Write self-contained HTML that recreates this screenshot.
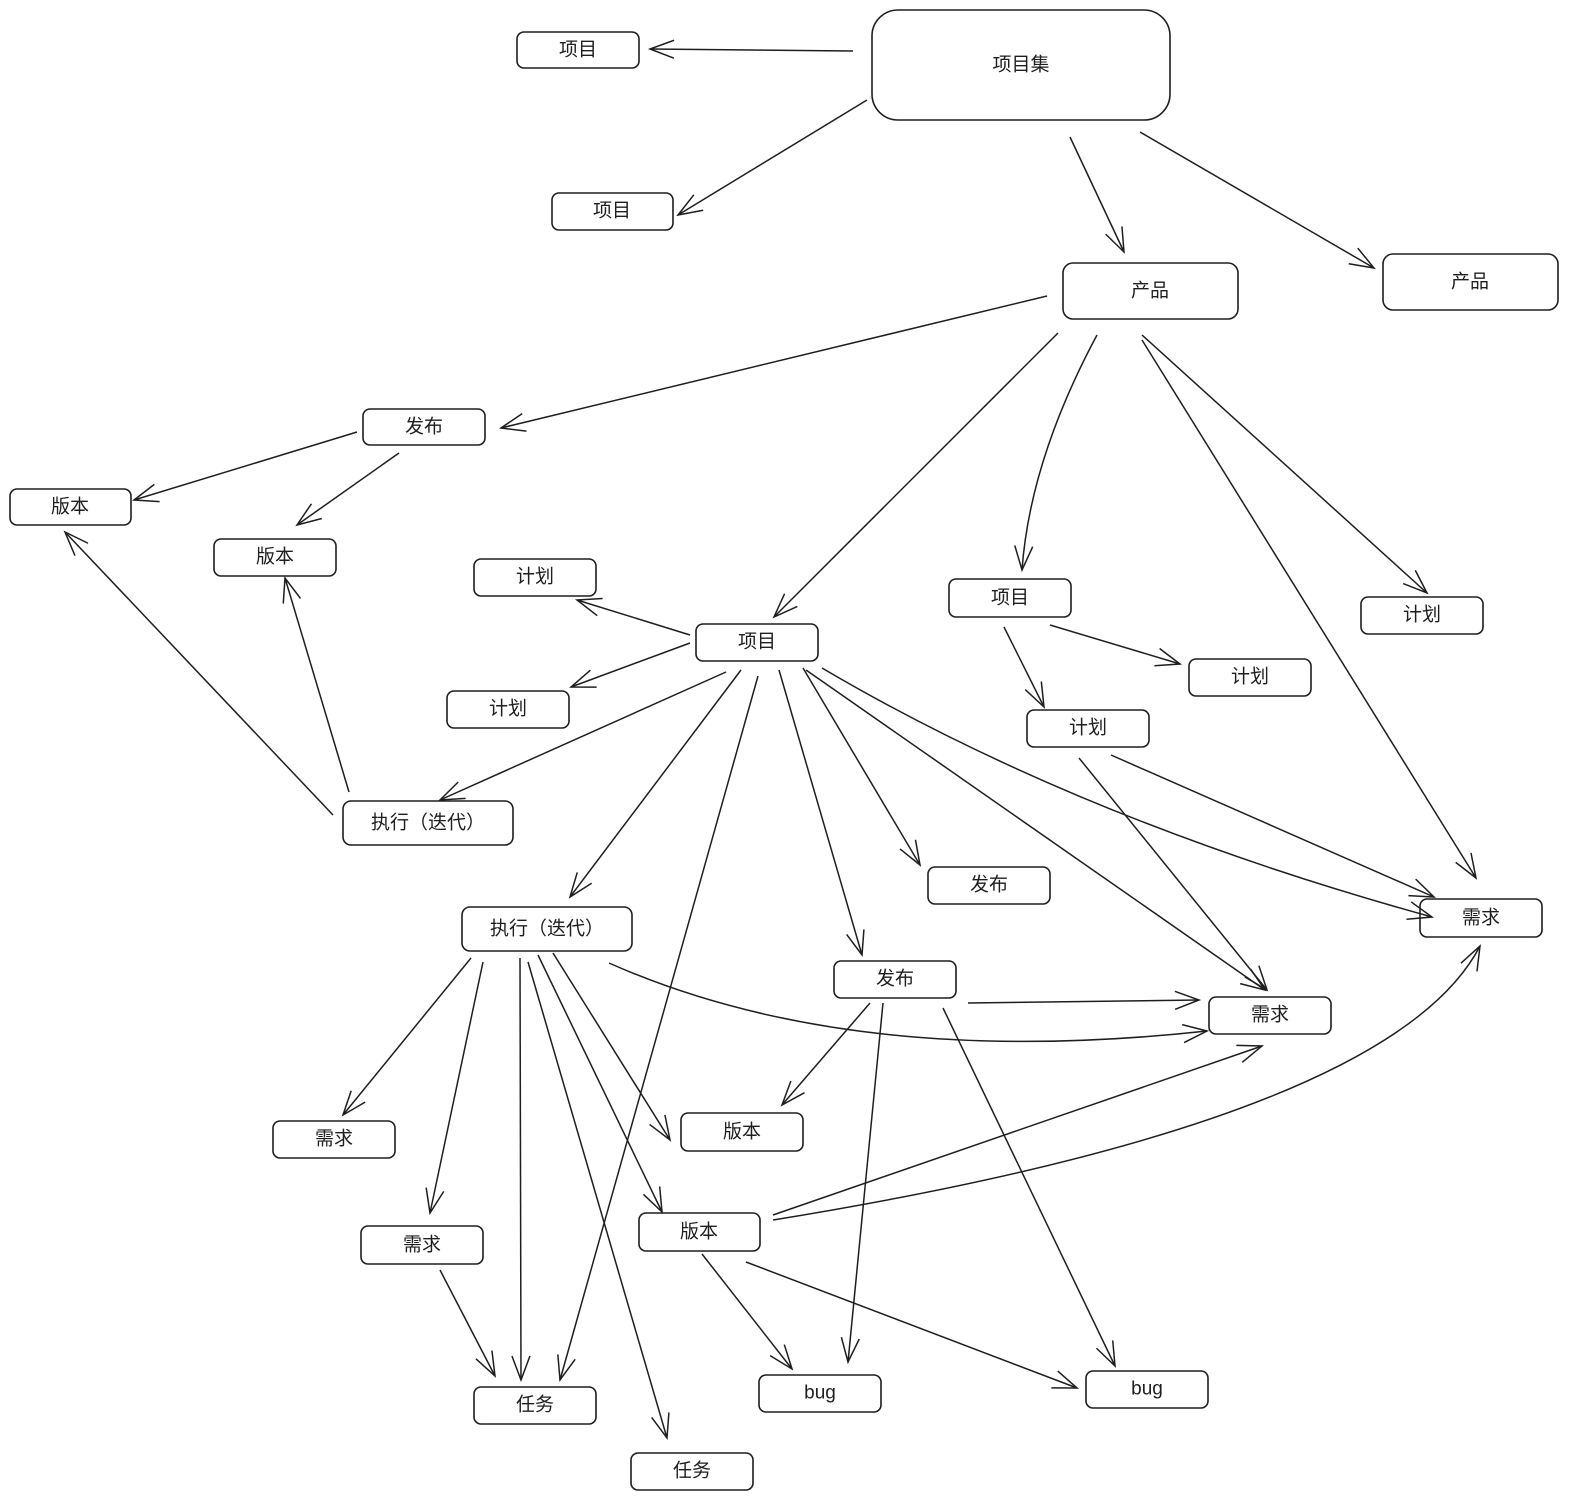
<!DOCTYPE html>
<html><head><meta charset="utf-8"><style>
html,body{margin:0;padding:0;background:#fff;}
svg{display:block;}
text{font-family:"Liberation Sans","Noto Sans CJK SC",sans-serif;font-size:19px;fill:#1e1e1e;text-anchor:middle;dominant-baseline:central;}
.b{fill:#fff;stroke:#1e1e1e;stroke-width:1.6;}
.a{fill:none;stroke:#1e1e1e;stroke-width:1.5;marker-end:url(#m);}
</style></head><body>
<svg width="1578" height="1511" viewBox="0 0 1578 1511" xmlns="http://www.w3.org/2000/svg">
<defs><marker id="m" markerWidth="30" markerHeight="20" refX="26" refY="10" orient="auto" markerUnits="userSpaceOnUse"><polyline points="2,1 26,10 2,19" fill="none" stroke="#1e1e1e" stroke-width="1.5"/></marker></defs>
<g>
<rect class="b" x="872" y="10" width="298" height="110" rx="26"/><text x="1021" y="65">项目集</text>
<rect class="b" x="517" y="32" width="122" height="36" rx="7"/><text x="578" y="50">项目</text>
<rect class="b" x="552" y="193" width="121" height="37" rx="7"/><text x="612" y="211">项目</text>
<rect class="b" x="1063" y="263" width="175" height="56" rx="10"/><text x="1150" y="291">产品</text>
<rect class="b" x="1383" y="254" width="175" height="56" rx="10"/><text x="1470" y="282">产品</text>
<rect class="b" x="363" y="409" width="122" height="36" rx="7"/><text x="424" y="427">发布</text>
<rect class="b" x="10" y="489" width="121" height="36" rx="7"/><text x="70" y="507">版本</text>
<rect class="b" x="214" y="539" width="122" height="37" rx="7"/><text x="275" y="557">版本</text>
<rect class="b" x="474" y="559" width="122" height="37" rx="7"/><text x="535" y="577">计划</text>
<rect class="b" x="696" y="624" width="122" height="37" rx="7"/><text x="757" y="642">项目</text>
<rect class="b" x="447" y="691" width="122" height="37" rx="7"/><text x="508" y="709">计划</text>
<rect class="b" x="949" y="579" width="122" height="38" rx="7"/><text x="1010" y="598">项目</text>
<rect class="b" x="1361" y="597" width="122" height="37" rx="7"/><text x="1422" y="615">计划</text>
<rect class="b" x="1189" y="659" width="122" height="37" rx="7"/><text x="1250" y="677">计划</text>
<rect class="b" x="1027" y="710" width="122" height="37" rx="7"/><text x="1088" y="728">计划</text>
<rect class="b" x="343" y="801" width="170" height="44" rx="8"/><text x="428" y="823">执行（迭代）</text>
<rect class="b" x="928" y="867" width="122" height="37" rx="7"/><text x="989" y="885">发布</text>
<rect class="b" x="462" y="907" width="170" height="44" rx="8"/><text x="547" y="929">执行（迭代）</text>
<rect class="b" x="1420" y="899" width="122" height="38" rx="7"/><text x="1481" y="918">需求</text>
<rect class="b" x="834" y="961" width="122" height="37" rx="7"/><text x="895" y="979">发布</text>
<rect class="b" x="1209" y="997" width="122" height="37" rx="7"/><text x="1270" y="1015">需求</text>
<rect class="b" x="273" y="1121" width="122" height="37" rx="7"/><text x="334" y="1139">需求</text>
<rect class="b" x="681" y="1113" width="122" height="38" rx="7"/><text x="742" y="1132">版本</text>
<rect class="b" x="361" y="1226" width="122" height="38" rx="7"/><text x="422" y="1245">需求</text>
<rect class="b" x="639" y="1213" width="121" height="38" rx="7"/><text x="699" y="1232">版本</text>
<rect class="b" x="474" y="1387" width="122" height="37" rx="7"/><text x="535" y="1405">任务</text>
<rect class="b" x="759" y="1375" width="122" height="37" rx="7"/><text x="820" y="1393">bug</text>
<rect class="b" x="1086" y="1371" width="122" height="37" rx="7"/><text x="1147" y="1389">bug</text>
<rect class="b" x="631" y="1453" width="122" height="37" rx="7"/><text x="692" y="1471">任务</text>
</g>
<g>
<path class="a" d="M853,51 L650,49"/>
<path class="a" d="M867,100 L678,215"/>
<path class="a" d="M1070,137 L1124,252"/>
<path class="a" d="M1140,132 L1374,268"/>
<path class="a" d="M1047,296 L501,428"/>
<path class="a" d="M1058,333 L774,617"/>
<path class="a" d="M1097,335 Q1030,460 1022,570"/>
<path class="a" d="M1142,335 L1427,593"/>
<path class="a" d="M1142,340 L1476,878"/>
<path class="a" d="M357,432 L134,500"/>
<path class="a" d="M399,453 L297,525"/>
<path class="a" d="M690,635 L577,600"/>
<path class="a" d="M690,643 L571,687"/>
<path class="a" d="M726,672 L440,800"/>
<path class="a" d="M741,670 L570,897"/>
<path class="a" d="M758,676 L560,1380"/>
<path class="a" d="M779,670 L862,955"/>
<path class="a" d="M803,668 L920,865"/>
<path class="a" d="M806,670 L1265,990"/>
<path class="a" d="M822,668 Q1080,820 1432,917"/>
<path class="a" d="M333,815 L65,532"/>
<path class="a" d="M349,792 L285,578"/>
<path class="a" d="M1004,627 L1044,707"/>
<path class="a" d="M1050,625 L1180,664"/>
<path class="a" d="M1079,758 L1267,990"/>
<path class="a" d="M1111,755 L1434,897"/>
<path class="a" d="M471,958 L343,1115"/>
<path class="a" d="M483,962 L430,1213"/>
<path class="a" d="M520,958 L521,1380"/>
<path class="a" d="M528,962 L667,1438"/>
<path class="a" d="M538,955 L662,1212"/>
<path class="a" d="M553,953 L670,1140"/>
<path class="a" d="M609,963 Q850,1070 1207,1031"/>
<path class="a" d="M968,1003 L1199,1000"/>
<path class="a" d="M870,1003 L782,1105"/>
<path class="a" d="M883,1003 L848,1362"/>
<path class="a" d="M943,1008 L1115,1366"/>
<path class="a" d="M440,1270 L495,1376"/>
<path class="a" d="M773,1215 L1262,1046"/>
<path class="a" d="M773,1220 Q1390,1120 1480,946"/>
<path class="a" d="M702,1254 L792,1369"/>
<path class="a" d="M746,1262 L1077,1388"/>
</g>
</svg>
</body></html>
